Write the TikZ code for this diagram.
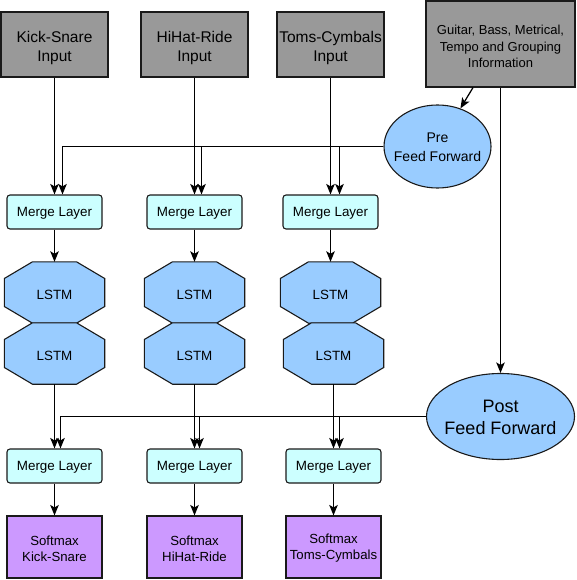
\documentclass[tikz,border=0pt]{standalone}
\usepackage{fontspec}
\setmainfont{Liberation Sans}
\usetikzlibrary{arrows.meta,shapes.geometric,backgrounds}
\definecolor{grayfill}{HTML}{999999}
\definecolor{mergefill}{HTML}{CCFFFF}
\definecolor{bluefill}{HTML}{99CCFF}
\definecolor{violetfill}{HTML}{CC99FF}
\definecolor{edgec}{HTML}{1A1A1A}
\tikzset{
  base/.style={draw=edgec, line width=1.1pt, inner sep=0pt},
  txt/.style={inner sep=0pt, align=center, text=black},
  inbox/.style={base, rectangle, fill=grayfill, minimum width=107pt, minimum height=65pt},
  intxt/.style={txt, font=\fontsize{15.5}{19}\selectfont, yshift=-3pt},
  infobox/.style={base, rectangle, fill=grayfill, minimum width=149pt, minimum height=86pt},
  infotxt/.style={txt, font=\fontsize{13}{16.5}\selectfont, yshift=-2.5pt},
  mergebox/.style={base, rectangle, rounded corners=3pt, fill=mergefill, minimum width=95pt, minimum height=34pt},
  mergetxt/.style={txt, font=\fontsize{13.4}{16}\selectfont, yshift=-1.5pt},
  lstmbox/.style={rectangle, inner sep=0pt, minimum width=100pt, minimum height=61pt, font=\fontsize{13.4}{16}\selectfont, text height=13pt, text depth=0pt},
  octo/.style={draw=edgec, fill=bluefill, line width=1.1pt, line join=miter},
  prebox/.style={base, ellipse, fill=bluefill, minimum width=107pt, minimum height=83pt},
  pretxt/.style={txt, font=\fontsize{14}{19.5}\selectfont, yshift=-1pt},
  postbox/.style={base, ellipse, fill=bluefill, minimum width=148pt, minimum height=86pt},
  posttxt/.style={txt, font=\fontsize{18}{22}\selectfont, yshift=-1pt},
  softbox/.style={base, rectangle, fill=violetfill, minimum width=95pt, minimum height=62pt},
  softtxt/.style={txt, font=\fontsize{13.2}{16}\selectfont, yshift=-1.5pt},
  arr/.style={draw=black, line width=1.25pt, -{Stealth[length=10.5pt,width=8.5pt,inset=2.5pt]}},
}
\begin{document}
\begin{tikzpicture}[x=1pt,y=-1pt]
\useasboundingbox (0,0) rectangle (576,580);
% inputs
\node[inbox, label={[intxt]center:Kick-Snare\\Input}] (in1) at (54.5,44.5) {};
\node[inbox, label={[intxt]center:HiHat-Ride\\Input}] (in2) at (194.5,44.5) {};
\node[inbox, label={[intxt]center:Toms-Cymbals\\Input}] (in3) at (330.5,44.5) {};
\node[infobox, label={[infotxt]center:Guitar, Bass, Metrical,\\Tempo and Grouping\\Information}] (info) at (500.5,44) {};
% feed forwards
\node[prebox, label={[pretxt]center:Pre\\Feed Forward}] (pre) at (437.5,146.5) {};
\node[postbox, label={[posttxt]center:Post\\Feed Forward}] (post) at (500.5,416.5) {};
% merge top
\node[mergebox, label={[mergetxt]center:Merge Layer}] (m1) at (54.5,212) {};
\node[mergebox, label={[mergetxt]center:Merge Layer}] (m2) at (194.5,212) {};
\node[mergebox, label={[mergetxt]center:Merge Layer}] (m3) at (330.5,212) {};
% lstm
\node[lstmbox] (la1) at (54.5,292.5) {LSTM};
\node[lstmbox] (lb1) at (54.5,353.5) {LSTM};
\node[lstmbox] (la2) at (194.5,292.5) {LSTM};
\node[lstmbox] (lb2) at (194.5,353.5) {LSTM};
\node[lstmbox] (la3) at (330.5,292.5) {LSTM};
\node[lstmbox] (lb3) at (333.5,353.5) {LSTM};
\begin{scope}[on background layer]
\foreach \n in {la1,lb1,la2,lb2,la3,lb3}{
  \draw[octo] ([xshift=-22pt]\n.north) -- ([xshift=22pt]\n.north)
    -- ([yshift=14pt]\n.east) -- ([yshift=-14pt]\n.east)
    -- ([xshift=22pt]\n.south) -- ([xshift=-22pt]\n.south)
    -- ([yshift=-14pt]\n.west) -- ([yshift=14pt]\n.west) -- cycle;
}
\end{scope}
% merge bottom
\node[mergebox, label={[mergetxt]center:Merge Layer}] (n1) at (54.5,466) {};
\node[mergebox, label={[mergetxt]center:Merge Layer}] (n2) at (194.5,466) {};
\node[mergebox, label={[mergetxt]center:Merge Layer}] (n3) at (333.5,466) {};
% softmax
\node[softbox, label={[softtxt]center:Softmax\\Kick-Snare}] (s1) at (54.5,547) {};
\node[softbox, label={[softtxt]center:Softmax\\HiHat-Ride}] (s2) at (194.5,547) {};
\node[softbox, label={[softtxt]center:Softmax\\Toms-Cymbals}] (s3) at (333.5,547) {};
% connectors top
\draw[arr] (in1.south) -- (m1.north);
\draw[arr] (in2.south) -- (m2.north);
\draw[arr] (in3.south) -- (m3.north);
\coordinate (g1) at ([xshift=-27.5pt]info.south);
\draw[arr] (g1) -- (pre);
\draw[arr] (info.south -| post.north) -- (post.north);
\draw[arr] (pre.west) -| ([xshift=8pt]m1.north);
\draw[arr] (pre.west) -| ([xshift=7pt]m2.north);
\draw[arr] (pre.west) -| ([xshift=9pt]m3.north);
\draw[arr] (m1.south) -- (la1.north);
\draw[arr] (m2.south) -- (la2.north);
\draw[arr] (m3.south) -- (la3.north);
% bottom
\draw[arr] (lb1.south) -- (lb1.south |- n1.north);
\draw[arr] (lb2.south) -- (lb2.south |- n2.north);
\draw[arr] (lb3.south) -- (lb3.south |- n3.north);
\draw[arr] (post.west) -| ([xshift=6pt]n1.north);
\draw[arr] (post.west) -| ([xshift=5pt]n2.north);
\draw[arr] (post.west) -| ([xshift=6pt]n3.north);
\draw[arr] (n1.south) -- (s1.north);
\draw[arr] (n2.south) -- (s2.north);
\draw[arr] (n3.south) -- (s3.north);
\end{tikzpicture}
\end{document}
